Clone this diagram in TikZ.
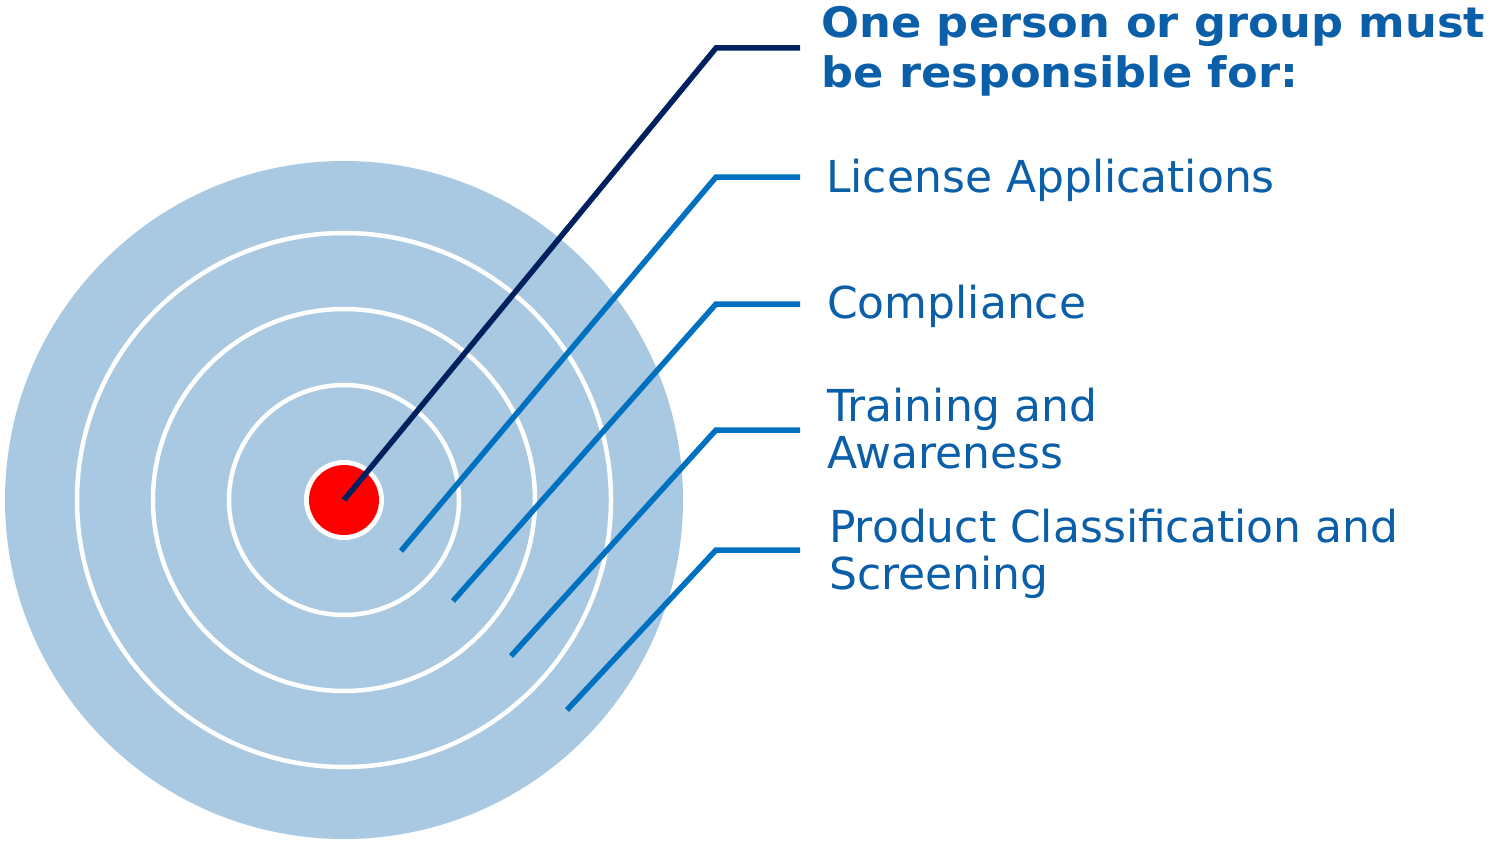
\documentclass[tikz,border=0pt]{standalone}
\usepackage{fontspec}
\setmainfont{DejaVu Sans}
\newfontfamily\titlefont[FakeStretch=1.065]{DejaVu Sans}
\definecolor{ringfill}{HTML}{A8C9E1}
\definecolor{navy}{HTML}{00205F}
\definecolor{lineblue}{HTML}{0070C0}
\definecolor{textblue}{HTML}{0B5FA8}
\definecolor{bullred}{HTML}{FF0000}
\begin{document}
\begin{tikzpicture}[x=1pt,y=-1pt,
  ring/.style={draw=white,line width=4.5pt},
  lead/.style={line width=5.5pt,lineblue},
  label/.style={anchor=base west,inner sep=0pt,text=textblue,font=\fontsize{44}{47}\selectfont,align=left}]
\useasboundingbox (0,0) rectangle (1490,840);
\fill[ringfill] (344,500) circle (339);
\draw[ring] (344,500) circle (267);
\draw[ring] (344,500) circle (191);
\draw[ring] (344,500) circle (115);
\fill[white] (344,500) circle (40);
\fill[bullred] (344,500) circle (35);
% leader coordinates
\coordinate (a0) at (344,500); \coordinate (a1) at (716,48); \coordinate (a2) at (800,48);
\coordinate (b0) at (401,551); \coordinate (b1) at (716,177); \coordinate (b2) at (800,177);
\coordinate (c0) at (453,601); \coordinate (c1) at (716,304); \coordinate (c2) at (800,304);
\coordinate (d0) at (511,656); \coordinate (d1) at (716,430); \coordinate (d2) at (800,430);
\coordinate (e0) at (567,710); \coordinate (e1) at (716,550); \coordinate (e2) at (800,550);
\draw[line width=5.5pt,navy] (a0) -- (a1) -- (a2);
\draw[lead] (b0) -- (b1) -- (b2);
\draw[lead] (c0) -- (c1) -- (c2);
\draw[lead] (d0) -- (d1) -- (d2);
\draw[lead] (e0) -- (e1) -- (e2);
% labels
\node[label,font=\titlefont\bfseries\fontsize{42}{50}\selectfont] (title) at (821,88) {One person or group must\\be responsible for:};
\node[label] (lic) at (826,192) {License Applications};
\node[label] (comp) at (827,318) {Compliance};
\node[label] (train) at (827,468) {Training and\\Awareness};
\node[label] (prod) at (829,589) {Product Classification and\\Screening};
\end{tikzpicture}
\end{document}
